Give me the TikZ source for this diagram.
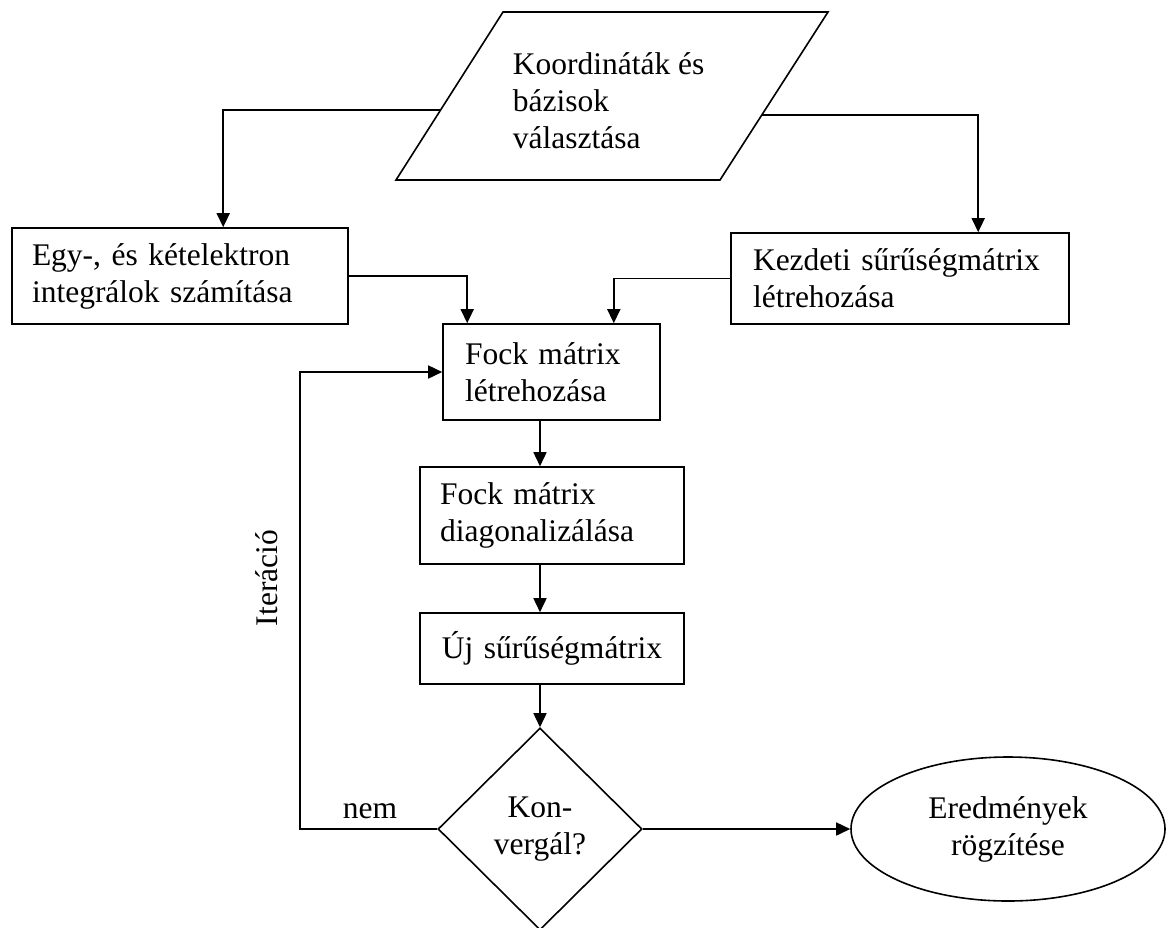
\documentclass[tikz,border=0pt]{standalone}
\usepackage{fontspec}
\setmainfont{Liberation Serif}
\usetikzlibrary{arrows.meta,shapes.geometric,calc}
\begin{document}
\begin{tikzpicture}[x=1pt,y=-1pt,
  line width=1.6pt,
  txt/.style={font=\fontsize{31.5}{37}\selectfont},
  arr/.style={-{Triangle[length=14pt,width=13pt]}},
  stepbox/.style={draw, rectangle, txt, inner ysep=0pt, align=left}
]
\useasboundingbox (0,0) rectangle (1166,927);
\fill[white] (0,0) rectangle (1166,927);

% input parallelogram
\coordinate (pTL) at (503,12);
\coordinate (pTR) at (828,12);
\coordinate (pBR) at (720,180);
\coordinate (pBL) at (396,180);
\draw (pTL) -- (pTR) -- (pBR) -- (pBL) -- cycle;
\node[txt, anchor=west, inner sep=0pt, align=left] (inp) at (512,100.5) {Koordináták és\\bázisok\\választása};
\coordinate (pL) at ($(pBL)!0.4167!(pTL)$);
\coordinate (pR) at ($(pBR)!0.3869!(pTR)$);

% boxes
\node[stepbox, inner xsep=20pt, text width=296pt, minimum height=96pt] (egy) at (180,276)
  {Egy-, és kételektron\\integrálok számítása};
\node[stepbox, inner xsep=22pt, text width=294pt, minimum height=91pt] (kezd) at (900,278.5)
  {Kezdeti~sűrűségmátrix\\létrehozása};
\node[stepbox, inner xsep=22pt, text width=173pt, minimum height=96pt] (fock1) at (551.5,372)
  {Fock mátrix\\létrehozása};
\node[stepbox, inner xsep=20pt, text width=224pt, minimum height=97pt] (diag) at (552,515.5)
  {Fock mátrix\\diagonalizálása};
\node[stepbox, align=center, inner xsep=20pt, text width=224pt, minimum height=71pt] (uj) at (552,648.5)
  {Új sűrűségmátrix};

% decision and end
\node[draw, diamond, txt, align=center, inner sep=0pt, minimum width=204pt, minimum height=202pt] (dia) at (540,829)
  {Kon-\\vergál?};
\node[draw, ellipse, txt, align=center, inner sep=0pt, minimum width=314pt, minimum height=144pt] (res) at (1008,829)
  {Eredmények\\rögzítése};

% labels
\node[txt, rotate=90, inner sep=0pt] (it) at (267,578) {Iteráció};
\node[txt, anchor=base, inner sep=0pt] (nem) at (370,818) {nem};
\coordinate (loop) at (300,829);

% connectors
\draw[arr] (pL) -| ($(egy.north west)+(212,0)$);
\draw[arr] (pR) -| ($(kezd.north west)+(248,0)$);
\draw[arr] (egy.east) -| ($(fock1.north west)+(25,0)$);
\draw[arr] (kezd.west) -| ($(fock1.north east)+(-47,0)$);
\draw[arr] (fock1.south -| dia.north) -- (diag.north -| dia.north);
\draw[arr] (diag.south -| dia.north) -- (uj.north -| dia.north);
\draw[arr] (uj.south -| dia.north) -- (dia.north);
\draw[arr] (dia.west) -- (loop) |- (fock1.west);
\draw[arr] (dia.east) -- (res.west);
\end{tikzpicture}
\end{document}
